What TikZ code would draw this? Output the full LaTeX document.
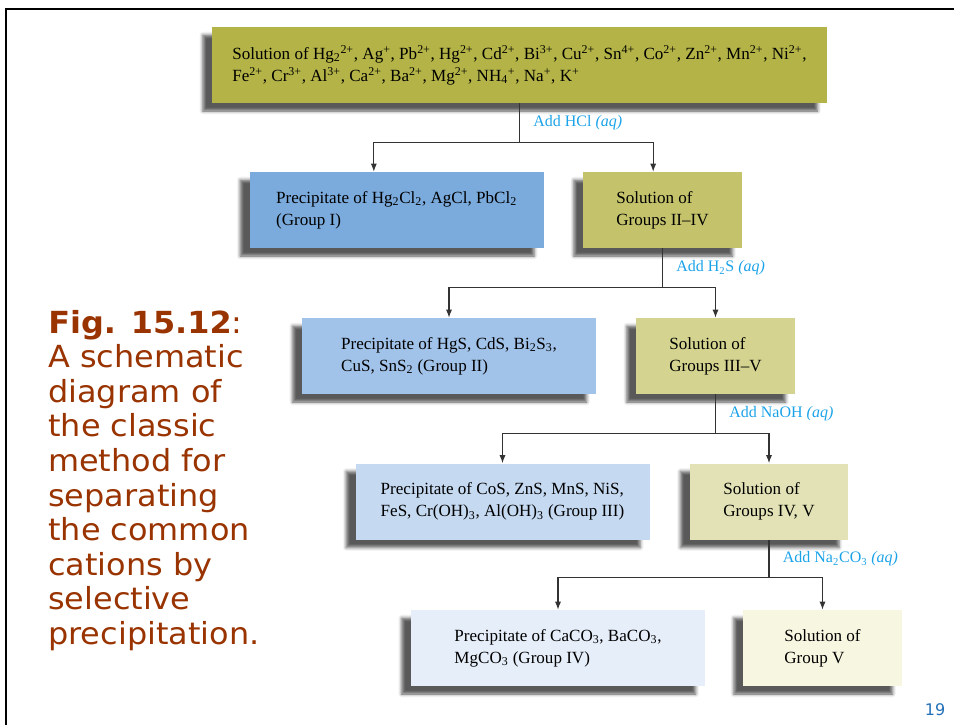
\documentclass[tikz,border=0pt]{standalone}
\usepackage{fontspec}
\setmainfont{Liberation Serif}
\newfontfamily\capfont[FakeStretch=1.05]{DejaVu Sans}
\newfontfamily\pagefont{DejaVu Sans}
\usetikzlibrary{positioning,arrows.meta,shadows.blur}

\newcommand{\chsub}[1]{\textsubscript{#1}}
\newcommand{\chsup}[1]{\textsuperscript{#1}}

\definecolor{topfill}{HTML}{B3B347}
\definecolor{precI}{HTML}{7BABDC}
\definecolor{solI}{HTML}{C4C36C}
\definecolor{precII}{HTML}{A2C3E9}
\definecolor{solII}{HTML}{D4D490}
\definecolor{precIII}{HTML}{C5D9F1}
\definecolor{solIII}{HTML}{E2E2B6}
\definecolor{precIV}{HTML}{E6EEF9}
\definecolor{solIV}{HTML}{F7F6E0}
\definecolor{addblue}{HTML}{1BA3E8}
\definecolor{capred}{HTML}{993300}
\definecolor{pagenum}{HTML}{2471B8}

\tikzset{
    box/.style={minimum height=57pt, inner sep=0pt, align=left,
        font=\fontsize{12.8}{16.5}\selectfont,
        blur shadow={shadow xshift=-7pt, shadow yshift=-6pt, shadow blur radius=2.5pt, shadow opacity=65}},
    precbox/.style={box, minimum width=220.5pt},
    solbox/.style={box, minimum width=119pt},
    link/.style={draw=black!80, line width=0.8pt},
    arr/.style={link, -{Latex[length=6pt,width=4.5pt]}},
    lbl/.style={midway, right=10pt, inner sep=0pt, text=addblue,
        font=\fontsize{12}{14}\selectfont},
    caption/.style={align=left, inner sep=0pt, text=capred,
        font=\capfont\fontsize{22.8}{25.9}\selectfont}
}

\begin{document}
\begin{tikzpicture}[x=0.75pt,y=-0.75pt]
    \useasboundingbox (0,0) rectangle (954,725);
    \draw[line width=2pt] (6,725) -- (6,9) -- (954,9);

    %\node[draw] () at (0,0) {frame};
    \node[box, fill=topfill, minimum width=461pt] (top) at (519.5,65)
        {Solution of Hg\chsub{2}\chsup{2+}, Ag\chsup{+}, Pb\chsup{2+}, Hg\chsup{2+}, Cd\chsup{2+}, Bi\chsup{3+}, Cu\chsup{2+}, Sn\chsup{4+}, Co\chsup{2+}, Zn\chsup{2+}, Mn\chsup{2+}, Ni\chsup{2+},\\
         Fe\chsup{2+}, Cr\chsup{3+}, Al\chsup{3+}, Ca\chsup{2+}, Ba\chsup{2+}, Mg\chsup{2+}, NH\chsub{4}\chsup{+}, Na\chsup{+}, K\chsup{+}};

    \node[precbox, fill=precI] (g1) at (396.5,210) {Precipitate of Hg\chsub{2}Cl\chsub{2}, AgCl, PbCl\chsub{2}\\(Group I)};
    \node[solbox, fill=solI] (s1) at (662.5,210) {Solution of\\Groups II--IV};
    \node[precbox, fill=precII] (g2) at (449,356) {Precipitate of HgS, CdS, Bi\chsub{2}S\chsub{3},\\CuS, SnS\chsub{2} (Group II)};
    \node[solbox, fill=solII] (s2) at (715.5,356) {Solution of\\Groups III--V};
    \node[precbox, fill=precIII] (g3) at (502.5,501.5) {Precipitate of CoS, ZnS, MnS, NiS,\\FeS, Cr(OH)\chsub{3}, Al(OH)\chsub{3} (Group III)};
    \node[solbox, fill=solIII] (s3) at (769,501.5) {Solution of\\Groups IV, V};
    \node[precbox, fill=precIV] (g4) at (558,648) {Precipitate of CaCO\chsub{3}, BaCO\chsub{3},\\MgCO\chsub{3} (Group IV)};
    \node[solbox, fill=solIV] (s4) at (822.5,648) {Solution of\\Group V};

    \coordinate[below=29.25pt of top.south] (j1);
    \draw[link] (top.south) -- node[lbl] {Add HCl \textit{(aq)}} (j1);
    \draw[arr] (j1) -| ([xshift=-17pt]g1.north);
    \draw[arr] (j1) -| ([xshift=-7pt]s1.north);

    \coordinate[below=29.6pt of s1.south] (j2);
    \draw[link] (s1.south) -- node[lbl] {Add H\chsub{2}S \textit{(aq)}} (j2);
    \draw[arr] (j2) -| (g2.north);
    \draw[arr] (j2) -| (s2.north);

    \coordinate[below=29.25pt of s2.south] (j3);
    \draw[link] (s2.south) -- node[lbl] {Add NaOH \textit{(aq)}} (j3);
    \draw[arr] (j3) -| (g3.north);
    \draw[arr] (j3) -| (s3.north);

    \coordinate[below=28.5pt of s3.south] (j4);
    \draw[link] (s3.south) -- node[lbl] {Add Na\chsub{2}CO\chsub{3} \textit{(aq)}} (j4);
    \draw[arr] (j4) -| (g4.north);
    \draw[arr] (j4) -| (s4.north);

    \node[caption, anchor=north west] (cap) at (48,310)
        {{\bfseries Fig. 15.12}:\\A schematic\\diagram of\\the classic\\method for\\separating\\the common\\cations by\\selective\\precipitation.};
    \node[font=\pagefont\fontsize{12}{14}\selectfont, text=pagenum] (pg) at (935,710) {19};
\end{tikzpicture}
\end{document}
